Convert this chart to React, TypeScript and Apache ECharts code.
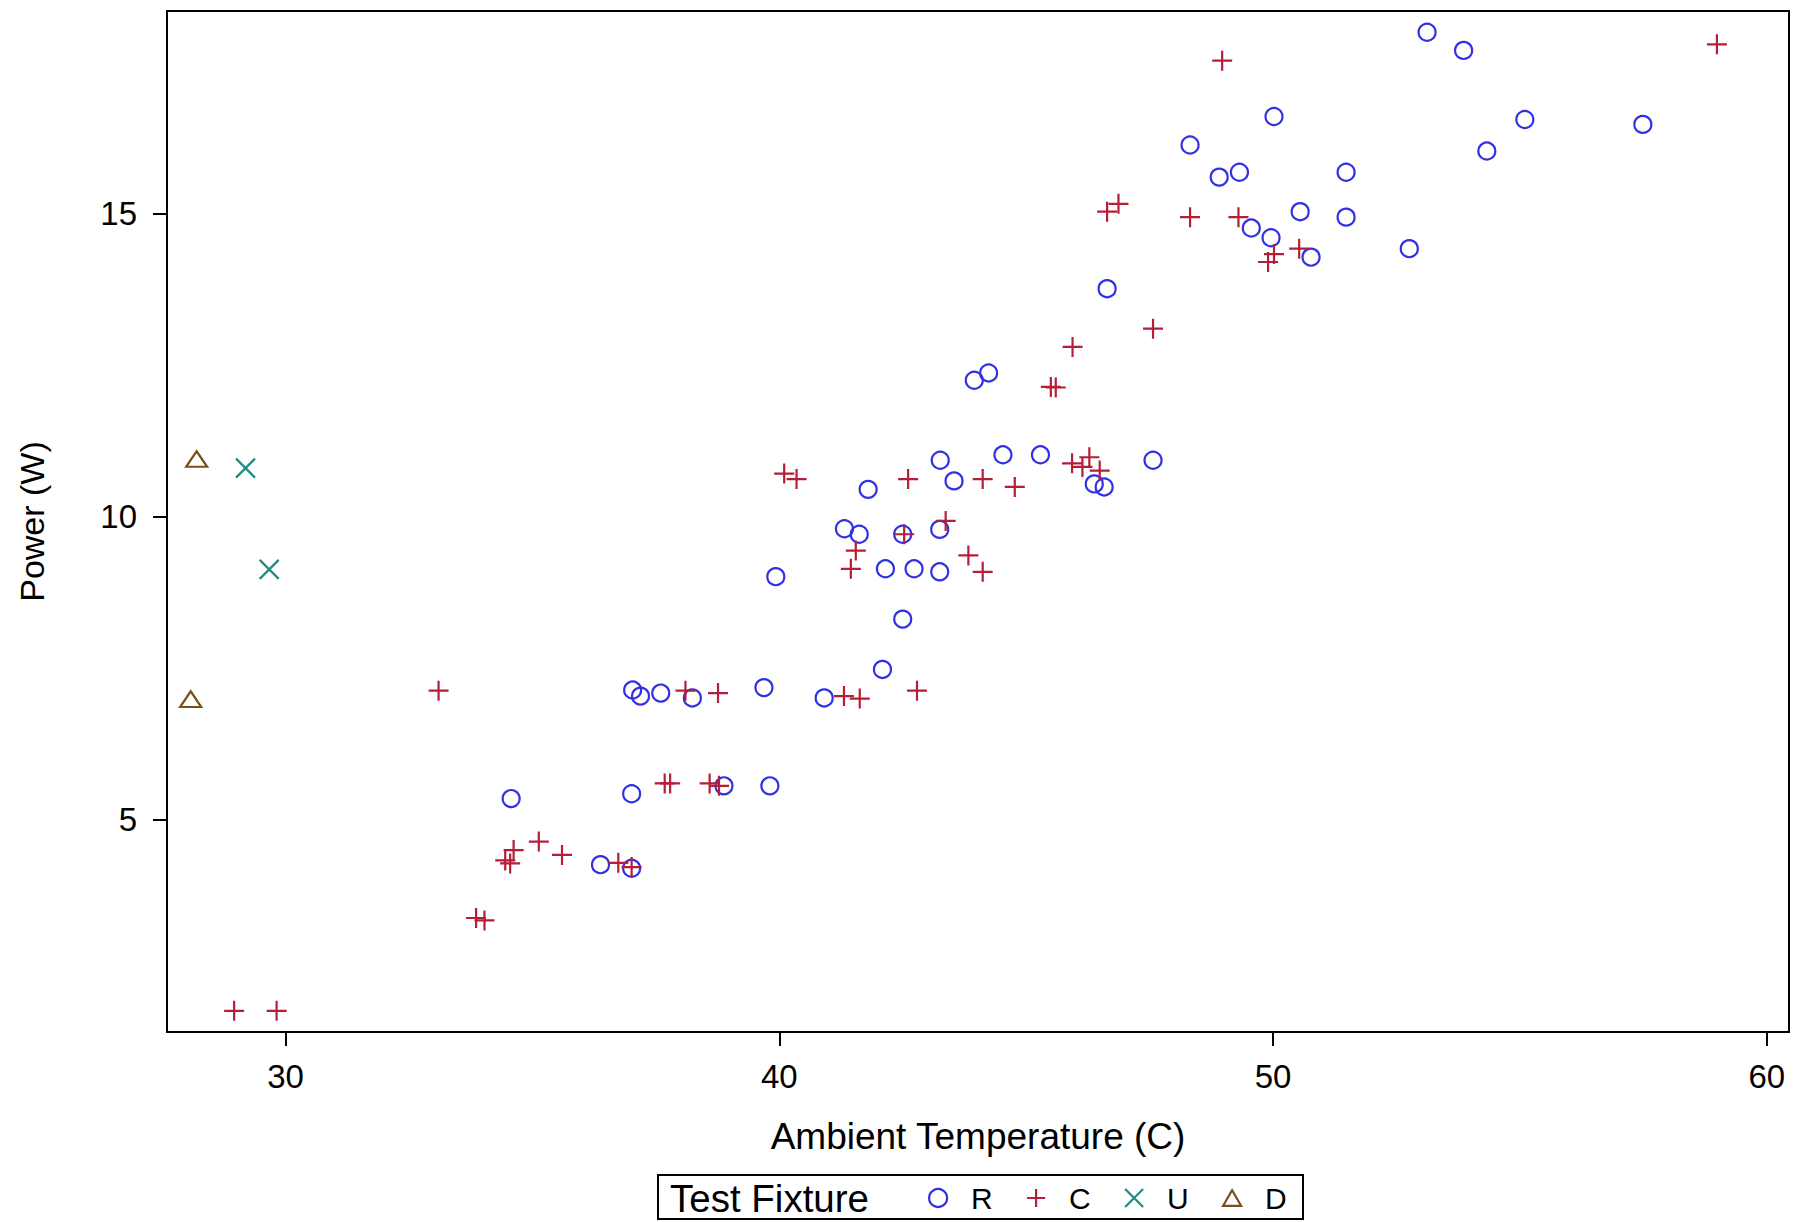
import React, { useEffect, useRef } from "react";
import * as echarts from "echarts";

// ---- data (x = Ambient Temperature (C), y = Power (W)) ----
const R_POINTS: [number, number][] = [
  [53.12, 17.99], [53.86, 17.69], [50.02, 16.6], [55.1, 16.55], [57.49, 16.47],
  [48.32, 16.13], [54.33, 16.03], [48.91, 15.6], [49.32, 15.68], [51.48, 15.68],
  [50.55, 15.03], [51.48, 14.94], [49.56, 14.76], [49.96, 14.6], [50.77, 14.28],
  [52.76, 14.42], [46.64, 13.76], [43.95, 12.25], [44.24, 12.37], [43.26, 10.93],
  [44.53, 11.02], [45.29, 11.02], [47.57, 10.93], [43.54, 10.59], [46.38, 10.54],
  [46.58, 10.49], [41.8, 10.45], [41.32, 9.8], [41.62, 9.71], [42.5, 9.71],
  [43.25, 9.79], [39.93, 9.01], [42.15, 9.14], [42.73, 9.14], [43.25, 9.09],
  [42.5, 8.31], [42.09, 7.48], [37.03, 7.14], [37.19, 7.04], [37.6, 7.09],
  [38.24, 7.01], [39.69, 7.18], [40.91, 7.01], [34.57, 5.35], [37.01, 5.43],
  [38.88, 5.56], [39.81, 5.56], [36.38, 4.26], [37.01, 4.2],
];

const C_POINTS: [number, number][] = [
  [48.97, 17.52], [58.99, 17.79], [46.64, 15.03], [46.87, 15.16], [48.32, 14.94],
  [49.3, 14.94], [50.02, 14.33], [49.9, 14.2], [50.53, 14.42], [47.57, 13.1],
  [45.94, 12.8], [45.5, 12.14], [45.6, 12.13], [40.1, 10.71], [40.35, 10.62],
  [42.61, 10.62], [44.12, 10.62], [44.77, 10.49], [45.93, 10.88], [46.14, 10.82],
  [46.28, 10.98], [46.49, 10.76], [43.37, 9.93], [42.53, 9.71], [41.55, 9.44],
  [41.45, 9.14], [43.83, 9.36], [44.12, 9.09], [33.1, 7.13], [38.1, 7.13],
  [38.76, 7.09], [41.31, 7.04], [41.63, 7.0], [42.79, 7.13], [37.68, 5.6],
  [37.79, 5.6], [38.59, 5.6], [38.78, 5.56], [35.13, 4.64], [35.6, 4.42],
  [34.45, 4.33], [34.55, 4.28], [34.62, 4.5], [36.74, 4.29], [37.01, 4.22],
  [33.86, 3.38], [34.03, 3.34], [28.96, 1.85], [29.82, 1.85],
];

const U_POINTS: [number, number][] = [
  [29.19, 10.8], [29.67, 9.13],
];

const D_POINTS: [number, number][] = [
  [28.2, 10.95], [28.08, 6.99],
];

const X_TICKS = [30, 40, 50, 60];
const Y_TICKS = [5, 10, 15];
const FIXTURES = ["R", "C", "U", "D"];

const X_TITLE = "Ambient Temperature (C)";
const Y_TITLE = "Power (W)";
const LEGEND_TITLE = "Test Fixture";

// ---- styling ----
const FONT = "'Liberation Sans', Arial, Helvetica, sans-serif";
const COLORS: Record<string, string> = {
  R: "#3030e6",
  C: "#b41e36",
  U: "#1e8c80",
  D: "#7a4e1a",
};
const SYMBOLS: Record<string, string> = {
  R: "circle",
  C: "path://M10,0L10,20M0,10L20,10",
  U: "path://M0,0L20,20M20,0L0,20",
  D: "path://M10,0L20,17.3L0,17.3Z",
};
const SIZES: Record<string, number | number[]> = {
  R: 17,
  C: 20,
  U: 19,
  D: [21, 18],
};
// legend icon centres (px)
const LEGEND_CENTER: Record<string, number> = { R: 937, C: 1035, U: 1133, D: 1231 };

export default function App() {
  const ref = useRef<HTMLDivElement>(null);

  useEffect(() => {
    document.body.style.margin = "0";
    if (!ref.current) return;
    const chart = echarts.init(ref.current, null, { renderer: "svg" });

    const dataMap: Record<string, [number, number][]> = {
      R: R_POINTS,
      C: C_POINTS,
      U: U_POINTS,
      D: D_POINTS,
    };

    const series = FIXTURES.map((name) => ({
      name,
      type: "scatter",
      data: dataMap[name],
      symbol: SYMBOLS[name],
      symbolSize: SIZES[name],
      symbolKeepAspect: true,
      silent: true,
      itemStyle: {
        color: "transparent",
        borderColor: COLORS[name],
        borderWidth: 2.2,
        opacity: 1,
      },
      emphasis: { disabled: true },
    }));

    const legends = FIXTURES.map((name) => ({
      show: true,
      orient: "horizontal",
      left: LEGEND_CENTER[name] - 9,
      top: 1183,
      padding: 0,
      itemWidth: 18,
      itemHeight: 18,
      selectedMode: false,
      symbolKeepAspect: true,
      data: [
        {
          name,
          icon: SYMBOLS[name],
          itemStyle: {
            color: "transparent",
            borderColor: COLORS[name],
            borderWidth: 2.2,
          },
        },
      ],
      textStyle: { fontFamily: FONT, fontSize: 30, color: "#000", padding: [0, 0, 0, 19] },
    }));

    const option: any = {
      animation: false,
      backgroundColor: "#fff",
      tooltip: { show: false },
      grid: {
        left: 167,
        top: 11,
        width: 1622,
        height: 1021,
        show: true,
        borderColor: "#000",
        borderWidth: 2,
        backgroundColor: "transparent",
        containLabel: false,
        outerBoundsMode: "none",
      },
      xAxis: {
        type: "value",
        min: 27.6,
        max: 60.45,
        name: X_TITLE,
        nameLocation: "middle",
        nameGap: 86,
        nameMoveOverlap: false,
        nameTextStyle: { fontFamily: FONT, fontSize: 37, color: "#000" },
        axisLine: { show: true, onZero: false, lineStyle: { color: "#000", width: 2 } },
        axisTick: { show: true, length: 14, lineStyle: { color: "#000", width: 2 }, customValues: X_TICKS },
        axisLabel: {
          show: true,
          customValues: X_TICKS,
          fontFamily: FONT,
          fontSize: 33,
          color: "#000",
          margin: 28,
        },
        splitLine: { show: false },
      },
      yAxis: {
        type: "value",
        min: 1.5,
        max: 18.34,
        name: Y_TITLE,
        nameLocation: "middle",
        nameGap: 118,
        nameMoveOverlap: false,
        nameTextStyle: { fontFamily: FONT, fontSize: 34, color: "#000" },
        axisLine: { show: true, onZero: false, lineStyle: { color: "#000", width: 2 } },
        axisTick: { show: true, length: 14, lineStyle: { color: "#000", width: 2 }, customValues: Y_TICKS },
        axisLabel: {
          show: true,
          customValues: Y_TICKS,
          fontFamily: FONT,
          fontSize: 33,
          color: "#000",
          margin: 30,
        },
        splitLine: { show: false },
      },
      legend: legends,
      graphic: [
        {
          type: "rect",
          silent: true,
          shape: { x: 658, y: 1175, width: 645, height: 44 },
          style: { fill: "none", stroke: "#000", lineWidth: 2 },
        },
        {
          type: "text",
          silent: true,
          x: 670,
          y: 1198,
          style: {
            text: LEGEND_TITLE,
            fontFamily: FONT,
            fontSize: 38.5,
            fill: "#000",
            verticalAlign: "middle",
            align: "left",
          },
        },
      ],
      series,
    };

    chart.setOption(option);
    return () => {
      chart.dispose();
    };
  }, []);

  return (
    <div
      ref={ref}
      style={{
        position: "relative",
        width: "1803px",
        height: "1222px",
        background: "#fff",
      }}
    />
  );
}
